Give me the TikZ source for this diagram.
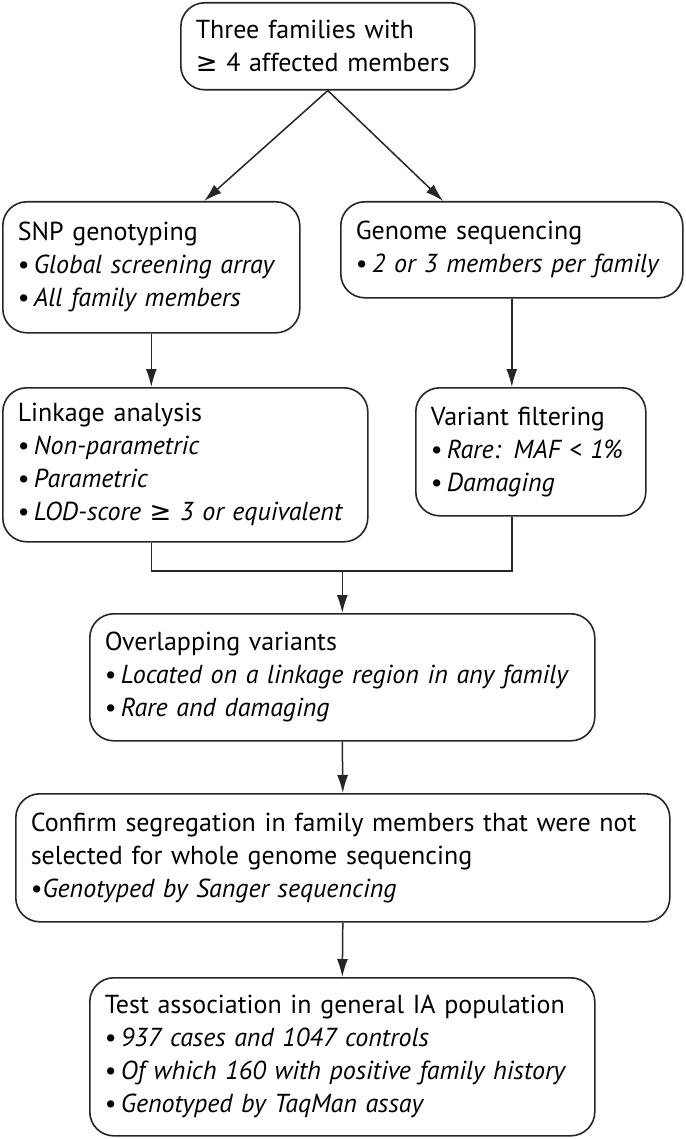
\documentclass[tikz,border=0pt]{standalone}
\usepackage{fontspec}
\setmainfont{PT Sans}
\newfontfamily\symfont{DejaVu Sans}
\usetikzlibrary{arrows.meta,calc}

\tikzset{
  box/.style={draw=black!85, line width=1.6pt, rounded corners=24pt,
    anchor=north west, align=left, inner xsep=15pt, inner ysep=0pt,
    font=\fontsize{26}{33}\selectfont},
  arr/.style={draw=black!85, line width=1.5pt, -{Latex[length=18pt,width=11pt]}},
  lin/.style={draw=black!85, line width=1.5pt}
}
\newcommand{\itm}[1]{•\,\textit{#1}}

\begin{document}
\begin{tikzpicture}[x=1pt,y=-1pt]
\useasboundingbox (0,0) rectangle (685,1139);

% boxes
\node [box, text width=264pt, minimum height=87pt] (top) at (180,2)
 {Three families with\\{\symfont ≥} 4 affected members};
\node [box, text width=267pt, minimum height=131pt] (snp) at (2,201)
 {SNP genotyping\\\itm{Global screening array}\\\itm{All family members}};
\node [box, text width=312pt, minimum height=96pt] (gen) at (340,201)
 {Genome sequencing\\\itm{2 or 3 members per family}};
\node [box, text width=335pt, minimum height=154pt] (link) at (2,387)
 {Linkage analysis\\\itm{Non-parametric}\\\itm{Parametric}\\\itm{LOD-score {\symfont ≥} 3 or equivalent}};
\node [box, text width=200pt, minimum height=128pt] (var) at (415,387)
 {Variant filtering\\\itm{Rare: MAF < 1\%}\\\itm{Damaging}};
\node [box, text width=475pt, minimum height=127pt] (over) at (89,613)
 {Overlapping variants\\\itm{Located on a linkage region in any family}\\\itm{Rare and damaging}};
\node [box, text width=624pt, minimum height=128pt] (conf) at (15,793)
 {Confirm segregation in family members that were not\\selected for whole genome sequencing\\•\textit{Genotyped by Sanger sequencing}};
\node [box, text width=475pt, minimum height=158pt] (test) at (89,977)
 {Test association in general IA population\\\itm{937 cases and 1047 controls}\\\itm{Of which 160 with positive family history}\\\itm{Genotyped by TaqMan assay}};

% arrows
\draw [arr] (top.south) -- ($(snp.north west)!0.677!(snp.north east)$);
\draw [arr] (top.south) -- ($(gen.north west)!0.30!(gen.north east)$);
\draw [arr] (snp.south) -- (link.north -| snp.south);
\draw [arr] (gen.south) -- (var.north -| gen.south);

\coordinate (mrg) at ($(over.north)+(0,-42)$);
\draw [lin] (link.south -| snp.south) |- (mrg);
\draw [lin] (var.south -| gen.south) |- (mrg);
\draw [arr] (mrg) -- (over.north);
\draw [arr] (over.south) -- (conf.north);
\draw [arr] (conf.south) -- (test.north);

\end{tikzpicture}
\end{document}
